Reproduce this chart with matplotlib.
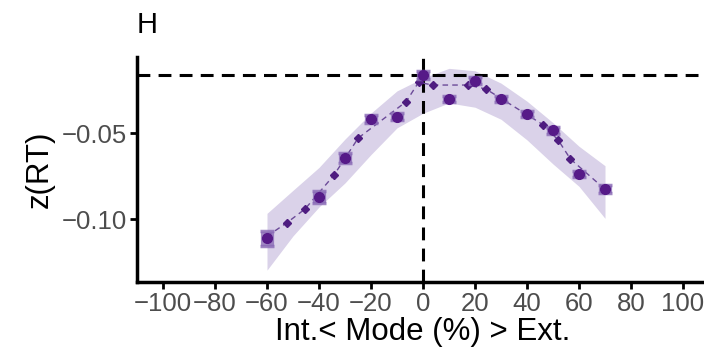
import matplotlib
matplotlib.use("Agg")
import matplotlib.pyplot as plt

plt.rcParams["font.family"] = ["Liberation Sans", "DejaVu Sans"]

# observed means (circles) with their standard errors
obs_x = [-60, -40, -30, -20, -10, 0, 10, 20, 30, 40, 50, 60, 70]
obs_y = [-0.1112, -0.0870, -0.0647, -0.0417, -0.0405, -0.0163, -0.0302,
         -0.0196, -0.0304, -0.0391, -0.0483, -0.0738, -0.0827]
obs_se = [0.0044, 0.0035, 0.0029, 0.0022, 0.0020, 0.0022, 0.0018,
          0.0020, 0.0018, 0.0018, 0.0020, 0.0020, 0.0024]

# model predictions (small diamonds joined by the dashed line)
pred_x = [-60, -52.3, -45.4, -34.3, -24.9, -6.5, -1.7, 3.7, 17.2, 24.2,
          46.3, 52.0, 56.7, 70]
pred_y = [-0.1100, -0.1021, -0.0942, -0.0746, -0.0529, -0.0318, -0.0205,
          -0.0221, -0.0221, -0.0244, -0.0453, -0.0541, -0.0651, -0.0827]

# smooth confidence band
band_x = [-60, -50, -40, -30, -20, -10, 0, 10, 20, 30, 40, 50, 60, 70]
band_lo = [-0.1297, -0.1098, -0.0930, -0.0790, -0.0625, -0.0470, -0.0385,
           -0.0325, -0.0350, -0.0420, -0.0540, -0.0680, -0.0810, -0.0996]
band_hi = [-0.0967, -0.0833, -0.0700, -0.0535, -0.0384, -0.0255, -0.0180,
           -0.0124, -0.0138, -0.0210, -0.0315, -0.0440, -0.0577, -0.0690]

xticks = [-100, -80, -60, -40, -20, 0, 20, 40, 60, 80, 100]
yticks = [-0.10, -0.05]
ytick_labels = ["\u22120.10", "\u22120.05"]

fig = plt.figure(figsize=(7.04, 3.6), dpi=100)
ax = fig.add_axes([137 / 704, 1 - 282 / 360, (709 - 137) / 704, (282 - 57) / 360])

ax.fill_between(band_x, band_lo, band_hi, color="#dad2e9", lw=0, zorder=1)

# reference lines at the 0% point
ax.axhline(obs_y[5], color="black", lw=2.2, ls=(0, (4.2, 2.7)), zorder=2)
ax.axvline(0, color="black", lw=2.2, ls=(0, (4.2, 2.7)), zorder=2)

ax.plot(pred_x, pred_y, color="#6b4a98", lw=1.0, ls=(0, (4, 3)), zorder=3)
ax.plot(pred_x[1:-1], pred_y[1:-1], ls="none", marker="D", ms=4.5,
        color="#4e1c80", zorder=4)

ax.errorbar(obs_x, obs_y, yerr=obs_se, fmt="none", ecolor="#8a6bb6",
            elinewidth=9.5, capsize=5, capthick=2.5, alpha=0.8, zorder=5)
ax.plot(obs_x, obs_y, ls="none", marker="o", ms=7, color="#561a88", zorder=6)

ax.set_xlim(-110, 110)
ax.set_ylim(-0.1366, -0.0058)
ax.set_xticks(xticks)
ax.set_yticks(yticks)
ax.set_yticklabels(ytick_labels)

for s in ["top", "right"]:
    ax.spines[s].set_visible(False)
for s in ["left", "bottom"]:
    ax.spines[s].set_linewidth(2.5)
ax.tick_params(length=5, width=2, color="black", labelsize=18.5,
               labelcolor="#4d4d4d", pad=2)

ax.set_xlabel("Int.< Mode (%) > Ext.", fontsize=22.5, labelpad=1)
ax.set_ylabel("z(RT)", fontsize=22.5, labelpad=5)
fig.text(137 / 704, 1 - 33 / 360, "H", fontsize=21, ha="left", va="baseline")

fig.savefig("out.png", dpi=100)
